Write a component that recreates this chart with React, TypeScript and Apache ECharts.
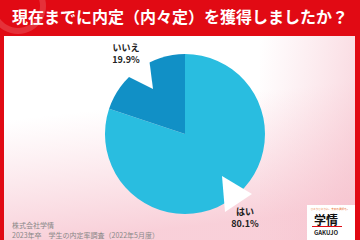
import React, { useEffect, useRef } from "react";
import * as echarts from "echarts";

const titleText = "現在までに内定（内々定）を獲得しましたか？";
const categories = ["はい", "いいえ"];
const values = [80.1, 19.9];
const sliceColors = ["#29bde0", "#1190c6"];
const footerLines = ["株式会社学情", "2023年卒　学生の内定率調査（2022年5月度）"];

const FONT = "'Noto Sans CJK JP', 'Noto Sans', sans-serif";

export default function App() {
  const ref = useRef<HTMLDivElement>(null);
  useEffect(() => {
    if (!ref.current) return;
    const chart = echarts.init(ref.current, undefined, { renderer: "svg" });
    const labelPos: Record<number, [number, number]> = { 0: [245, 217], 1: [126, 53] };
    chart.setOption({
      animation: false,
      backgroundColor: "#ffffff",
      title: {
        text: titleText,
        left: "center",
        top: 3,
        z: 20,
        textStyle: { color: "#ffffff", fontSize: 16, fontWeight: "bold", fontFamily: FONT },
      },
      graphic: [
        {
          type: "rect",
          z: -20,
          silent: true,
          shape: { x: 0, y: 36, width: 360, height: 204 },
          style: {
            fill: new echarts.graphic.LinearGradient(0, 0, 0.2, 1, [
              { offset: 0, color: "rgba(248,200,210,0)" },
              { offset: 0.4, color: "rgba(248,200,210,0)" },
              { offset: 1, color: "rgba(246,192,204,0.75)" },
            ]),
          },
        },
        {
          type: "rect",
          z: -19,
          silent: true,
          shape: { x: 260, y: 36, width: 100, height: 204 },
          style: {
            fill: new echarts.graphic.LinearGradient(0, 0, 1, 0.3, [
              { offset: 0, color: "rgba(248,200,210,0)" },
              { offset: 1, color: "rgba(246,192,204,0.6)" },
            ]),
          },
        },
        { type: "rect", z: 1, silent: true, shape: { x: 0, y: 0, width: 360, height: 36 }, style: { fill: "#e10a14" } },
        {
          type: "ring",
          z: 2,
          silent: true,
          shape: { cx: 18, cy: 6, r: 28, r0: 22 },
          style: { fill: "rgba(255,255,255,0.16)" },
        },
        { type: "rect", z: 1, silent: true, shape: { x: 0, y: 36, width: 4, height: 204 }, style: { fill: "#e10a14" } },
        { type: "rect", z: 1, silent: true, shape: { x: 355, y: 36, width: 5, height: 204 }, style: { fill: "#e10a14" } },
        {
          type: "polygon",
          z: 100,
          silent: true,
          shape: { points: [[149, 58], [153, 89], [127, 76], [136, 65]] },
          style: { fill: "#ffffff" },
        },
        {
          type: "polygon",
          z: 100,
          silent: true,
          shape: { points: [[222, 176], [225, 212], [252, 194]] },
          style: { fill: "#ffffff" },
        },
        {
          type: "text",
          z: 60,
          left: 12,
          top: 221,
          style: { text: footerLines[0], fill: "#888888", fontSize: 7, fontFamily: FONT },
        },
        {
          type: "text",
          z: 60,
          left: 12,
          top: 231,
          style: { text: footerLines[1], fill: "#888888", fontSize: 7, fontFamily: FONT },
        },
        { type: "rect", z: 60, silent: true, shape: { x: 307, y: 205, width: 48, height: 35 }, style: { fill: "#ffffff" } },
        {
          type: "text",
          z: 61,
          x: 330,
          y: 209,
          style: { text: "ひとりひとりに、未来の選択を。", fill: "#ea6a1e", fontSize: 2.6, align: "center", verticalAlign: "middle", fontFamily: FONT },
        },
        {
          type: "text",
          z: 61,
          x: 326,
          y: 219,
          style: { text: "学情", fill: "#111111", fontSize: 12, fontWeight: "bold", align: "center", verticalAlign: "middle", fontFamily: FONT },
        },
        { type: "rect", z: 61, silent: true, shape: { x: 312, y: 226, width: 30, height: 1 }, style: { fill: "#e10a14" } },
        {
          type: "text",
          z: 61,
          x: 326,
          y: 232,
          style: { text: "GAKUJO", fill: "#222222", fontSize: 6, fontWeight: "bold", align: "center", verticalAlign: "middle", fontFamily: FONT },
        },
      ],
      series: [
        {
          type: "pie",
          center: [185, 134],
          radius: 80,
          startAngle: 90,
          clockwise: true,
          z: 2,
          data: categories.map((name, i) => ({
            name,
            value: values[i],
            itemStyle: { color: sliceColors[i] },
          })),
          label: {
            show: true,
            position: "outside",
            overflow: "none",
            width: 60,
            formatter: (p: any) => `${p.name}\n${p.value.toFixed(1)}%`,
            color: "#222222",
            fontSize: 9,
            fontWeight: "bold",
            lineHeight: 12,
            fontFamily: FONT,
            align: "center",
          },
          labelLine: { show: false },
          labelLayout: (params: any) => {
            const p = labelPos[params.dataIndex];
            return { x: p[0], y: p[1], align: "center", verticalAlign: "middle" };
          },
          emphasis: { disabled: true },
        },
      ],
    });
    return () => chart.dispose();
  }, []);
  return (
    <div
      ref={ref}
      style={{ position: "fixed", left: 0, top: 0, width: 360, height: 240 }}
    />
  );
}
